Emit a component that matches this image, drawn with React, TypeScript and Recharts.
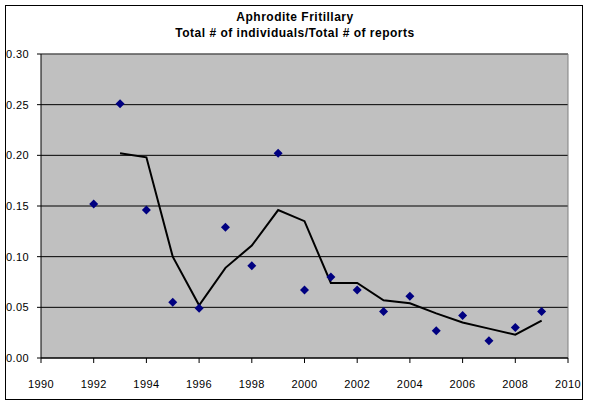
import React from "react";
import {
  ComposedChart,
  Scatter,
  Line,
  XAxis,
  YAxis,
  CartesianGrid,
  ReferenceLine,
} from "recharts";

const years = [1992, 1993, 1994, 1995, 1996, 1997, 1998, 1999, 2000, 2001, 2002, 2003, 2004, 2005, 2006, 2007, 2008, 2009];
const ratios = [0.152, 0.251, 0.146, 0.055, 0.049, 0.129, 0.091, 0.202, 0.067, 0.080, 0.067, 0.046, 0.061, 0.027, 0.042, 0.017, 0.030, 0.046];
const trend = [null, 0.202, 0.198, 0.100, 0.052, 0.089, 0.111, 0.146, 0.135, 0.074, 0.074, 0.057, 0.054, 0.044, 0.035, 0.029, 0.023, 0.037];
const xTicks = [1990, 1992, 1994, 1996, 1998, 2000, 2002, 2004, 2006, 2008, 2010];
const yTicks = [0, 0.05, 0.1, 0.15, 0.2, 0.25, 0.3];
const titleLines = ["Aphrodite Fritillary", "Total # of individuals/Total # of reports"];

const data = years.map((y, i) => ({ year: y, ratio: ratios[i], trend: trend[i] }));

const FONT = "'Liberation Sans', Arial, sans-serif";

const Diamond = (props: any) => {
  const { cx, cy } = props;
  if (cx == null || cy == null) return null;
  const r = 4.5;
  return (
    <polygon
      points={`${cx},${cy - r} ${cx + r},${cy} ${cx},${cy + r} ${cx - r},${cy}`}
      fill="#000080"
      stroke="none"
    />
  );
};

export default function App() {
  return (
    <div style={{ position: "absolute", left: 0, top: 0, width: 590, height: 406, background: "#fff" }}>
      <ComposedChart
        width={590}
        height={406}
        data={data}
        margin={{ top: 54, right: 22, bottom: 0, left: 0 }}
      >
        <CartesianGrid fill="#C0C0C0" fillOpacity={1} stroke="#000" strokeWidth={1} vertical={false} />
        <ReferenceLine y={0.3} stroke="#808080" strokeWidth={1} />
        <ReferenceLine x={2010} stroke="#808080" strokeWidth={1} />
        <XAxis
          type="number"
          dataKey="year"
          domain={[1990, 2010]}
          ticks={xTicks}
          interval={0}
          height={48}
          tickSize={5}
          tickMargin={17}
          stroke="#000"
          axisLine={{ stroke: "#000" }}
          tickLine={{ stroke: "#000" }}
          tick={{ fill: "#000", fontSize: 11, fontFamily: FONT, letterSpacing: 0.4 }}
        />
        <YAxis
          type="number"
          domain={[0, 0.3]}
          ticks={yTicks}
          interval={0}
          width={41}
          tickSize={4}
          tickMargin={8}
          tickFormatter={(v: number) => v.toFixed(2)}
          axisLine={{ stroke: "#000" }}
          tickLine={{ stroke: "#000" }}
          tick={{ fill: "#000", fontSize: 11, fontFamily: FONT, letterSpacing: 0.4 }}
        />
        <Line
          type="linear"
          dataKey="trend"
          stroke="#000"
          strokeWidth={2}
          dot={false}
          activeDot={false}
          connectNulls={false}
          isAnimationActive={false}
        />
        <Scatter dataKey="ratio" shape={<Diamond />} isAnimationActive={false} />
      </ComposedChart>
      <svg
        width={590}
        height={406}
        style={{ position: "absolute", left: 0, top: 0, pointerEvents: "none" }}
      >
        <rect x={5.5} y={5.5} width={577} height={394} fill="none" stroke="#000" strokeWidth={1} />
        <text x={295} y={20.7} textAnchor="middle" fontFamily={FONT} fontSize={12} fontWeight="bold" letterSpacing={0.5} fill="#000">
          {titleLines[0]}
        </text>
        <text x={295} y={36.7} textAnchor="middle" fontFamily={FONT} fontSize={12} fontWeight="bold" letterSpacing={0.5} fill="#000">
          {titleLines[1]}
        </text>
      </svg>
    </div>
  );
}
